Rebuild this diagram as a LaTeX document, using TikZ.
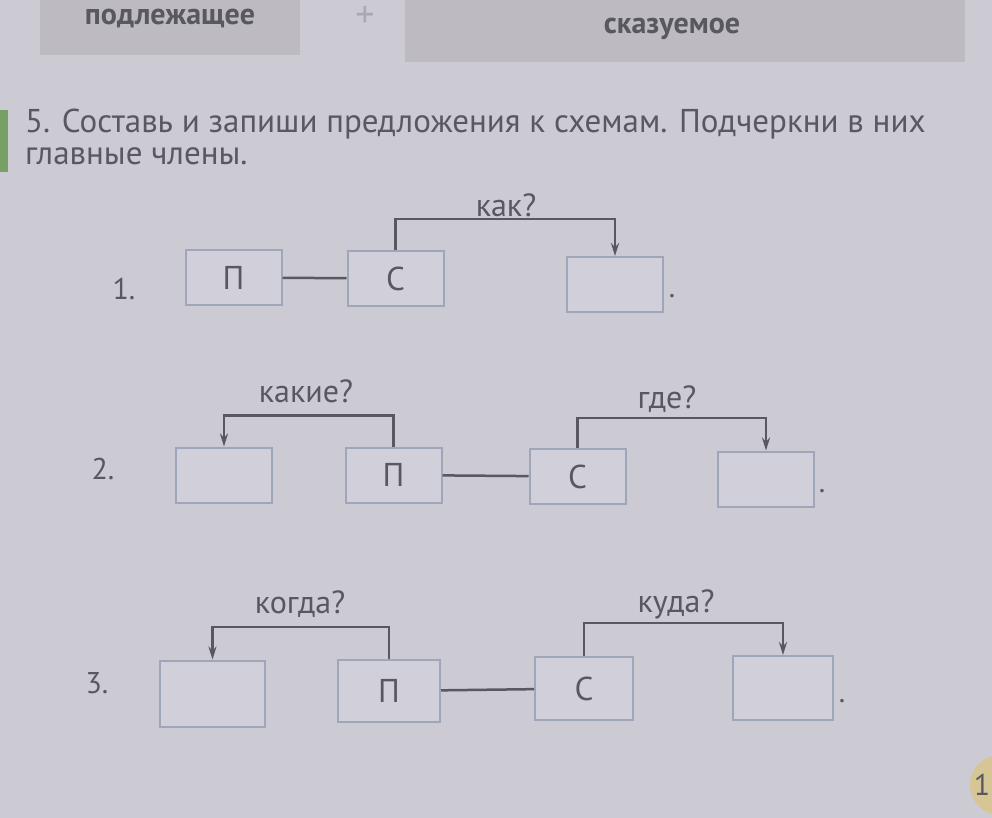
\documentclass[tikz,border=0pt]{standalone}
\usepackage{fontspec}
\setmainfont{PT Sans}
\usepackage{tikz}
\usetikzlibrary{arrows.meta}

\definecolor{paper}{RGB}{204,202,210}
\definecolor{bar}{RGB}{190,186,194}
\definecolor{ink}{RGB}{88,88,96}
\definecolor{boxline}{RGB}{160,166,186}
\definecolor{boxfill}{RGB}{209,208,218}
\definecolor{tab}{RGB}{120,160,100}
\definecolor{pagenum}{RGB}{214,198,150}
\definecolor{pluscol}{RGB}{172,168,178}

\tikzset{
  schema/.style={draw=boxline, fill=boxfill, line width=2pt, minimum width=96pt, minimum height=55pt, inner sep=0pt, text=ink, font=\fontsize{33}{33}\selectfont},
  link/.style={draw=ink, line width=2.5pt},
  ask/.style={draw=ink, line width=2.5pt, ->},
  question/.style={text=ink, font=\fontsize{32}{32}\selectfont},
  plain/.style={text=ink, font=\fontsize{30}{36}\selectfont, inner sep=0pt}
}

\begin{document}
\begin{tikzpicture}[x=1pt, y=-1pt, >={Stealth[length=13pt, width=8pt]}]
\fill[paper] (0,0) rectangle (992,818);
\useasboundingbox (0,0) rectangle (992,818);
% header
\fill[bar] (40,0) rectangle (300,55);
\fill[bar] (405,0) rectangle (965,62);
\node[plain, font=\fontsize{30}{30}\selectfont\bfseries] (subj) at (170,19) {подлежащее};
\node[plain, text=pluscol, font=\fontsize{38}{38}\selectfont] (plus) at (365,17) {+};
\node[plain, font=\fontsize{30}{30}\selectfont\bfseries] (pred) at (672,29) {сказуемое};
\fill[tab] (0,110) rectangle (8,172);
\node[plain, anchor=west, font=\fontsize{33}{33}\selectfont] (task) at (25,124) {5. Составь и запиши предложения к схемам. Подчеркни в них};
\node[plain, anchor=west, font=\fontsize{33}{33}\selectfont] (task2) at (25,156) {главные члены.};

% 1
\node[plain] (n1) at (124,289) {1.};
\node[schema] (p1) at (233.5,277.5) {П};
\node[schema] (s1) at (395.5,278.5) {С};
\node[schema] (e1) at (615,284.5) {};
\node[plain] (d1) at (672,296) {.};
\draw[link] (p1) -- (s1);
\draw[ask] (s1.north) -- ++(0,-31) coordinate (k1) -| (e1.north);
\node[question] (q1) at (506,205) {как?};

% 2
\node[plain] (n2) at (103,469) {2.};
\node[schema] (a2) at (224,475) {};
\node[schema] (p2) at (393.5,475) {П};
\node[schema] (s2) at (577.5,476.5) {С};
\node[schema] (e2) at (766,479) {};
\node[plain] (d2) at (822,491) {.};
\draw[link] (p2) -- (s2);
\draw[ask] (p2.north) -- ++(0,-31) -| (a2.north);
\draw[ask] (s2.north) -- ++(0,-30) -| (e2.north);
\node[question] (q2a) at (306,391) {какие?};
\node[question] (q2b) at (667,399) {где?};

% 3
\node[plain] (n3) at (97,683) {3.};
\node[schema, minimum width=105pt, minimum height=66pt] (a3) at (212.5,693.5) {};
\node[schema, minimum width=102pt, minimum height=62pt] (p3) at (389,691) {П};
\node[schema, minimum width=98pt, minimum height=63pt] (s3) at (584,688.5) {С};
\node[schema, minimum width=100pt, minimum height=64pt] (e3) at (783,688) {};
\node[plain] (d3) at (842,701) {.};
\draw[link] (p3) -- (s3);
\draw[ask] (p3.north) -- ++(0,-32) -| (a3.north);
\draw[ask] (s3.north) -- ++(0,-33) -| (e3.north);
\node[question] (q3a) at (300,604) {когда?};
\node[question] (q3b) at (676,604) {куда?};

% page number
\fill[pagenum] (1000,785) circle (30);
\node[plain] (pg) at (982,785) {1};
\end{tikzpicture}
\end{document}
